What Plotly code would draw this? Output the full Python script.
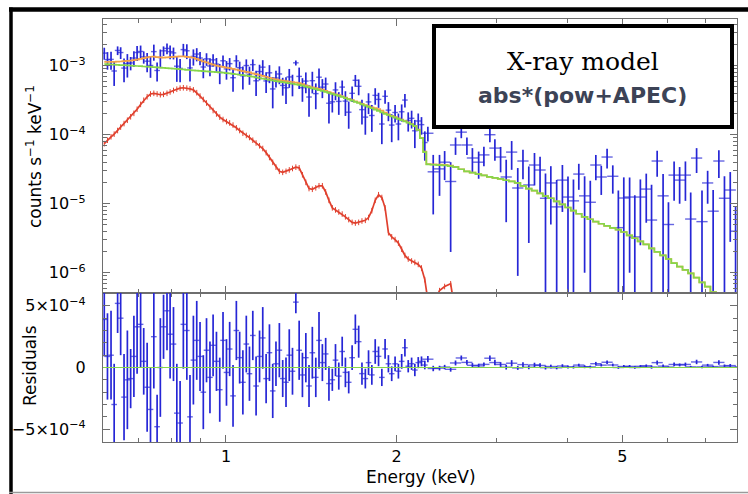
import plotly.graph_objects as go

# ---------------- data (count-rate values in units of 1e-4 counts s^-1 keV^-1) ----------------
UNIT = 1e-4

energy_kev = [
    0.610, 0.618, 0.627, 0.635, 0.644, 0.652, 0.661, 0.670, 0.679, 0.688,
    0.697, 0.707, 0.716, 0.726, 0.736, 0.746, 0.756, 0.766, 0.776, 0.787,
    0.797, 0.808, 0.819, 0.830, 0.841, 0.853, 0.864, 0.876, 0.888, 0.900,
    0.912, 0.924, 0.937, 0.949, 0.962, 0.975, 0.988, 1.002, 1.015, 1.029,
    1.043, 1.057, 1.071, 1.086, 1.100, 1.115, 1.130, 1.146, 1.161, 1.177,
    1.193, 1.209, 1.225, 1.242, 1.259, 1.276, 1.293, 1.310, 1.328, 1.346,
    1.364, 1.383, 1.401, 1.420, 1.440, 1.459, 1.479, 1.499, 1.519, 1.540,
    1.560, 1.581, 1.603, 1.624, 1.646, 1.669, 1.691, 1.714, 1.737, 1.761,
    1.784, 1.808, 1.833, 1.858, 1.883, 1.908, 1.934, 1.960, 1.987, 2.014,
    2.041, 2.068, 2.096, 2.125, 2.153, 2.183, 2.212, 2.242,
    2.27, 2.32, 2.38, 2.43, 2.49, 2.54, 2.60, 2.66, 2.72, 2.79,
    2.85, 2.92, 2.98, 3.05, 3.12, 3.19, 3.27, 3.34, 3.42, 3.50,
    3.58, 3.66, 3.74, 3.83, 3.92, 4.01, 4.10, 4.19, 4.29, 4.39,
    4.49, 4.59, 4.70, 4.81, 4.92, 5.03, 5.15, 5.26, 5.38, 5.51,
    5.63, 5.76, 5.90, 6.03, 6.17, 6.31, 6.46, 6.60, 6.76, 6.91,
    7.07, 7.23, 7.40, 7.57, 7.75, 7.92,
]

counts = [
    15.23, 12.25, 12.35, 8.39, 16.65, 15.52, 9.24, 10.74, 10.97, 12.92,
    15.55, 16.09, 13.41, 11.63, 10.08, 16.01, 8.53, 13.18, 16.44, 17.81,
    16.01, 15.33, 9.84, 9.14, 17.12, 16.46, 9.29, 13.64, 14.76, 12.94,
    9.58, 12.56, 9.91, 12.17, 10.55, 8.00, 11.79, 8.98, 10.71, 6.70,
    11.78, 9.35, 7.14, 10.06, 7.49, 10.36, 6.05, 8.23, 9.53, 6.02,
    7.89, 4.61, 6.64, 7.59, 5.18, 4.79, 6.88, 5.50, 11.01, 7.00,
    4.80, 5.99, 3.52, 6.07, 3.94, 6.82, 4.89, 5.43, 2.86, 3.00,
    4.46, 3.04, 4.90, 3.07, 2.12, 3.98, 6.15, 5.03, 2.31, 1.80,
    2.99, 1.90, 3.72, 3.25, 1.43, 3.60, 2.27, 1.38, 2.10, 1.43,
    2.15, 3.18, 1.61, 1.73, 1.14, 1.58, 1.40, 0.77,
    1.05, 0.29, 0.32, 0.40, 0.21, 0.71, 1.09, 0.71, 0.46, 0.40,
    0.51, 1.00, 0.64, 0.475, 0.244, 0.56, 0.169, 0.416, 0.187, 0.364,
    0.308, 0.12, 0.20, 0.090, 0.22, 0.125, 0.11, 0.269, 0.13, 0.105,
    0.364, 0.244, 0.475, 0.25, 0.045, 0.121, 0.125, 0.033, 0.125, 0.163,
    0.058, 0.416, 0.13, 0.05, 0.26, 0.22, 0.26, 0.06, 0.459, 0.055,
    0.20, 0.078, 0.416, 0.12, 0.158, 0.04,
]

counts_err = [
    3.0, 3.5, 3.6, 3.3, 2.4, 3.0, 3.5, 4.0, 2.4, 3.3,
    3.8, 3.5, 2.7, 3.6, 3.4, 4.2, 2.6, 4.0, 2.6, 3.2,
    3.6, 3.0, 4.0, 3.4, 3.6, 4.0, 3.4, 3.6, 3.2, 2.8,
    3.0, 2.6, 2.9, 2.5, 2.4, 2.6, 2.3, 2.7, 2.2, 2.5,
    2.4, 2.1, 2.6, 2.3, 2.2, 2.0, 2.4, 2.1, 2.5, 2.0,
    2.3, 2.2, 1.8, 2.2, 1.5, 2.0, 2.1, 1.9, 0.9, 2.4,
    1.8, 2.0, 1.7, 2.1, 1.6, 2.3, 1.5, 1.3, 1.4, 0.9,
    1.3, 1.1, 1.2, 1.2, 0.9, 1.0, 1.2, 1.3, 0.9, 0.8,
    1.0, 0.8, 1.0, 0.8, 0.7, 0.8, 0.7, 0.6, 0.6, 0.6,
    0.6, 0.7, 0.5, 0.5, 0.5, 0.45, 0.4, 0.35,
    0.25, 0.22, 0.19, 0.18, 0.19, 0.20, 0.20, 0.20, 0.18, 0.17,
    0.16, 0.22, 0.22, 0.19, 0.19, 0.25, 0.16, 0.19, 0.16, 0.18,
    0.17, 0.155, 0.15, 0.13, 0.144, 0.123, 0.115, 0.11, 0.12, 0.11,
    0.145, 0.11, 0.15, 0.11, 0.11, 0.12, 0.115, 0.10, 0.10, 0.11,
    0.13, 0.17, 0.14, 0.055, 0.15, 0.12, 0.15, 0.085, 0.18, 0.10,
    0.10, 0.08, 0.18, 0.13, 0.13, 0.05,
]

powerlaw_model = [
    10.59, 10.52, 10.42, 10.37, 10.30, 10.23, 10.19, 10.12, 10.05, 9.98,
    9.91, 9.84, 9.75, 9.68, 9.59, 9.53, 9.44, 9.38, 9.29, 9.23,
    9.14, 9.06, 8.97, 8.91, 8.83, 8.73, 8.67, 8.57, 8.49, 8.41,
    8.34, 8.28, 8.20, 8.13, 8.05, 8.00, 7.93, 7.83, 7.73, 7.62,
    7.52, 7.40, 7.29, 7.18, 7.08, 6.93, 6.79, 6.64, 6.50, 6.37,
    6.22, 6.11, 6.00, 5.89, 5.79, 5.69, 5.57, 5.48, 5.37, 5.27,
    5.14, 4.99, 4.85, 4.71, 4.57, 4.44, 4.31, 4.18, 4.05, 3.91,
    3.78, 3.66, 3.53, 3.40, 3.26, 3.13, 3.00, 2.88, 2.75, 2.64,
    2.53, 2.42, 2.31, 2.21, 2.11, 2.01, 1.93, 1.85, 1.77, 1.70,
    1.63, 1.56, 1.49, 1.41, 1.33, 1.17, 0.89, 0.56,
    0.372, 0.367, 0.363, 0.359, 0.351, 0.339, 0.316, 0.295, 0.282, 0.269,
    0.257, 0.245, 0.237, 0.229, 0.219, 0.211, 0.200, 0.182, 0.166, 0.155,
    0.141, 0.129, 0.120, 0.108, 0.0977, 0.0881, 0.0794, 0.0716, 0.0646, 0.0596,
    0.0550, 0.0513, 0.0479, 0.0447, 0.0422, 0.0389, 0.0347, 0.0316, 0.0285, 0.0257,
    0.0226, 0.0200, 0.0178, 0.0158, 0.0138, 0.0123, 0.0110, 0.00977, 0.00851, 0.00724,
    0.00631, 0.00525, 0.00437, 0.00372, 0.00309, 0.00263,
]

apec_model = [
    0.741, 0.832, 0.933, 1.02, 1.15, 1.29, 1.45, 1.62, 1.82, 2.04,
    2.34, 2.75, 3.16, 3.55, 3.89, 3.98, 3.89, 3.80, 3.85, 3.98,
    4.17, 4.37, 4.57, 4.73, 4.79, 4.73, 4.62, 4.47, 4.07, 3.63,
    3.24, 2.88, 2.51, 2.24, 2.00, 1.80, 1.66, 1.55, 1.48, 1.38,
    1.26, 1.15, 1.05, 0.977, 0.912, 0.832, 0.759, 0.692, 0.631, 0.550,
    0.468, 0.398, 0.339, 0.295, 0.285, 0.295, 0.309, 0.324, 0.339, 0.331,
    0.263, 0.204, 0.166, 0.162, 0.170, 0.182, 0.182, 0.148, 0.112, 0.0871,
    0.0813, 0.0759, 0.0708, 0.0646, 0.0589, 0.0537, 0.0525, 0.0537, 0.0562, 0.0575,
    0.0631, 0.0794, 0.112, 0.135, 0.123, 0.0871, 0.0380, 0.0331, 0.0302, 0.0269,
    0.0219, 0.0178, 0.0158, 0.0148, 0.0141, 0.0132, 0.0117, 0.00794,
    0.00398, 0.00355, 0.00550, 0.00631, 0.00692, 0.00251,
]

x_tick_vals = [1, 2, 5]
x_tick_text = ["1", "2", "5"]
x_minor_vals = [0.7, 0.8, 0.9, 3, 4, 6, 7]
y_tick_vals = [1e-6, 1e-5, 1e-4, 1e-3]
y_tick_text = ["10<sup>−6</sup>", "10<sup>−5</sup>", "10<sup>−4</sup>", "10<sup>−3</sup>"]
r_tick_vals = [-5e-4, 0, 5e-4]
r_tick_text = ["−5×10<sup>−4</sup>", "0", "5×10<sup>−4</sup>"]

# ---------------- derived series ----------------
n_bins = len(energy_kev)
apec_full = apec_model + [0.0] * (n_bins - len(apec_model))
total_model = [p + a for p, a in zip(powerlaw_model, apec_full)]
data_y = [c * UNIT for c in counts]
data_err = [e * UNIT for e in counts_err]
pow_y = [p * UNIT for p in powerlaw_model]
apec_y = [a * UNIT for a in apec_model]
total_y = [t * UNIT for t in total_model]
resid_y = [(c - t) * UNIT for c, t in zip(counts, total_model)]

BLUE = "#2626d6"
GREEN = "#86d64a"
ORANGE = "#f2a24a"
RED = "#e0402e"
AX = "#6e6e6e"
FONT = "DejaVu Sans, Liberation Sans, Arial, sans-serif"
FS = 17
TICK_FS = 16

bar_sizes = [4 if e < 2.25 else 8 for e in energy_kev]


def data_trace(y, xa, ya):
    return go.Scatter(
        x=energy_kev, y=y, xaxis=xa, yaxis=ya, mode="markers",
        marker=dict(symbol="line-ew", size=bar_sizes, color=BLUE,
                    line=dict(color=BLUE, width=1.4)),
        error_y=dict(type="data", array=data_err, color=BLUE, thickness=1.7, width=0),
        hoverinfo="skip", showlegend=False,
    )


fig = go.Figure()
fig.add_trace(data_trace(data_y, "x", "y"))
fig.add_trace(go.Scatter(x=energy_kev, y=total_y, mode="lines", xaxis="x", yaxis="y",
                         line=dict(color=ORANGE, width=1.7, shape="hvh"), hoverinfo="skip"))
fig.add_trace(go.Scatter(x=energy_kev, y=pow_y, mode="lines", xaxis="x", yaxis="y",
                         line=dict(color=GREEN, width=1.7, shape="hvh"), hoverinfo="skip"))
fig.add_trace(go.Scatter(x=energy_kev[:len(apec_y)], y=apec_y, mode="lines+markers", xaxis="x", yaxis="y",
                         line=dict(color=RED, width=1.7, shape="linear"),
                         marker=dict(symbol="line-ns", size=4, line=dict(color=RED, width=1)),
                         hoverinfo="skip"))
fig.add_trace(data_trace(resid_y, "x2", "y2"))

top_minor = [m * 10.0 ** k for k in range(-7, -2) for m in range(2, 10)]
res_minor = [k * 1e-4 for k in range(-6, 7) if k not in (-5, 0, 5)]

common_axis = dict(showgrid=False, zeroline=False, linecolor=AX, linewidth=1.2, mirror="ticks",
                   ticks="inside", ticklen=7, tickwidth=1.2, tickcolor=AX, automargin=False,
                   tickfont=dict(family=FONT, size=TICK_FS, color="black"))

TOP_DOM = [0.3522, 1.0]
BOT_DOM = [0.0, 0.3522]

fig.update_layout(
    width=748, height=494,
    margin=dict(l=103, r=11, t=19, b=52),
    paper_bgcolor="white", plot_bgcolor="white",
    showlegend=False,
    xaxis=dict(common_axis, type="log", range=[-0.2169, 0.9012], domain=[0, 1], anchor="y",
               tickvals=x_tick_vals, showticklabels=False,
               minor=dict(tickvals=x_minor_vals, ticks="inside", ticklen=4, tickcolor=AX, showgrid=False)),
    yaxis=dict(common_axis, type="log", range=[-6.294, -2.323], domain=TOP_DOM, anchor="x",
               tickvals=y_tick_vals, ticktext=y_tick_text, ticklabelstandoff=13,
               minor=dict(tickvals=top_minor, ticks="inside", ticklen=4, tickcolor=AX, showgrid=False)),
    xaxis2=dict(common_axis, type="log", range=[-0.2169, 0.9012], domain=[0, 1], anchor="y2",
                matches="x", tickvals=x_tick_vals, ticktext=x_tick_text, ticklabelstandoff=0,
                minor=dict(tickvals=x_minor_vals, ticks="inside", ticklen=4, tickcolor=AX, showgrid=False)),
    yaxis2=dict(common_axis, range=[-6.04e-4, 6.04e-4], domain=BOT_DOM, anchor="x2",
                tickvals=r_tick_vals, ticktext=r_tick_text, ticklabelstandoff=13,
                minor=dict(tickvals=res_minor, ticks="inside", ticklen=4, tickcolor=AX, showgrid=False)),
)


def px_x(px):
    return (px - 103) / 634.0


def px_y(py):
    return (442 - py) / 423.0


shapes = [
    # zero line in residual panel
    dict(type="line", xref="paper", x0=0, x1=1, yref="y2", y0=0, y1=0,
         line=dict(color=GREEN, width=1.2), layer="above"),
    # model label box
    dict(type="rect", xref="paper", yref="paper",
         x0=px_x(434), x1=px_x(732), y0=px_y(127), y1=px_y(26),
         line=dict(color="black", width=4), fillcolor="white", layer="above"),
    # outer frame
    dict(type="line", xref="paper", yref="paper", x0=px_x(9), x1=px_x(760),
         y0=px_y(9.5), y1=px_y(9.5), line=dict(color="black", width=4.5)),
    dict(type="line", xref="paper", yref="paper", x0=px_x(11), x1=px_x(11),
         y0=px_y(7.5), y1=px_y(500), line=dict(color="black", width=3.5)),
    dict(type="line", xref="paper", yref="paper", x0=px_x(9), x1=px_x(760),
         y0=px_y(492.5), y1=px_y(492.5), line=dict(color="#9a9a9a", width=1.5)),
]
fig.update_layout(shapes=shapes)

annotations = [
    dict(text="counts s<sup>−1</sup> keV<sup>−1</sup>", xref="paper", yref="paper",
         x=px_x(34), y=px_y(157), textangle=-90, showarrow=False,
         font=dict(family=FONT, size=FS, color="black"), xanchor="center", yanchor="middle"),
    dict(text="Residuals", xref="paper", yref="paper",
         x=px_x(30), y=px_y(366), textangle=-90, showarrow=False,
         font=dict(family=FONT, size=FS, color="black"), xanchor="center", yanchor="middle"),
    dict(text="Energy (keV)", xref="paper", yref="paper",
         x=px_x(421), y=px_y(477), showarrow=False,
         font=dict(family=FONT, size=FS, color="black"), xanchor="center", yanchor="middle"),
    dict(text="X-ray model", xref="paper", yref="paper",
         x=px_x(582.5), y=px_y(61), showarrow=False,
         font=dict(family="DejaVu Serif, serif", size=25, color="black"),
         xanchor="center", yanchor="middle"),
    dict(text="<b>abs*(pow+APEC)</b>", xref="paper", yref="paper",
         x=px_x(582.5), y=px_y(95), showarrow=False,
         font=dict(family="DejaVu Sans, sans-serif", size=22, color="#3c4356"),
         xanchor="center", yanchor="middle"),
]
fig.update_layout(annotations=annotations)

fig.write_html("out.html")
